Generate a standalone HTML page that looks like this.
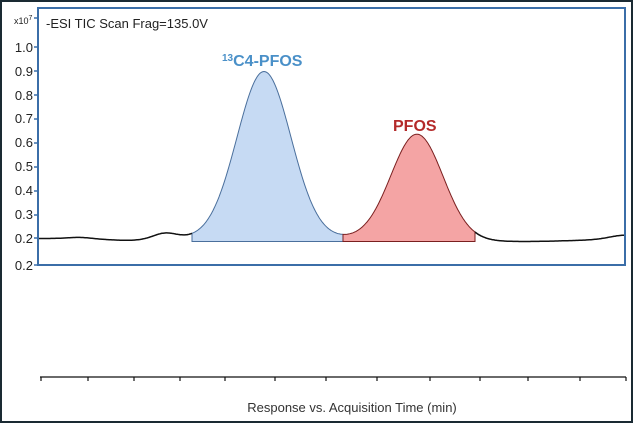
<!DOCTYPE html>
<html><head><meta charset="utf-8"><style>
html,body{margin:0;padding:0;background:#fff}
body{width:633px;height:423px;overflow:hidden}
</style></head><body>
<svg id="s" width="633" height="423" viewBox="0 0 633 423" xmlns="http://www.w3.org/2000/svg" font-family="Liberation Sans, sans-serif">
<rect x="1" y="1" width="631" height="421" fill="#fff" stroke="#1a2a33" stroke-width="2"/>
<path id="blue" fill="#c6daf3" stroke="#4a6f9c" stroke-width="1"/>
<path id="red" fill="#f4a4a4" stroke="#7a1f1f" stroke-width="1"/>
<path id="base" fill="none" stroke="#111" stroke-width="1.5"/>
<path id="base2" fill="none" stroke="#111" stroke-width="1.5"/>
<rect x="38" y="8" width="587" height="257" fill="none" stroke="#3b6ea8" stroke-width="2"/>
<g font-size="13" fill="#222" text-anchor="end">
<text x="33" y="52">1.0</text><text x="33" y="76">0.9</text><text x="33" y="100">0.8</text>
<text x="33" y="123">0.7</text><text x="33" y="147">0.6</text><text x="33" y="171">0.5</text>
<text x="33" y="195">0.4</text><text x="33" y="219">0.3</text><text x="33" y="243">0.2</text>
<text x="33" y="270">0.2</text>
</g>
<text x="14" y="24" font-size="9" fill="#222">x10<tspan font-size="7" dy="-4">7</tspan></text>
<g stroke="#3b6ea8" stroke-width="1.5">
<line x1="34" y1="47" x2="38" y2="47"/><line x1="34" y1="71" x2="38" y2="71"/><line x1="34" y1="95" x2="38" y2="95"/>
<line x1="34" y1="119" x2="38" y2="119"/><line x1="34" y1="143" x2="38" y2="143"/><line x1="34" y1="167" x2="38" y2="167"/>
<line x1="34" y1="191" x2="38" y2="191"/><line x1="34" y1="215" x2="38" y2="215"/><line x1="34" y1="238" x2="38" y2="238"/>
<line x1="34" y1="265" x2="38" y2="265"/><line x1="34" y1="18" x2="38" y2="18"/>
</g>
<text x="46" y="28" font-size="13" fill="#222">-ESI TIC Scan Frag=135.0V</text>
<text x="222" y="66" font-size="16" font-weight="bold" fill="#4a90c8"><tspan font-size="10" dy="-5">13</tspan><tspan dy="5">C4-PFOS</tspan></text>
<text x="393" y="131" font-size="16" font-weight="bold" fill="#b42a2a">PFOS</text>
<line x1="40" y1="377" x2="626" y2="377" stroke="#111" stroke-width="1.2"/>
<g id="ticks" stroke="#111" stroke-width="1.2"></g>
<text x="352" y="412" font-size="13" fill="#333" text-anchor="middle">Response vs. Acquisition Time (min)</text>
</svg>
<script>
function g(x,m,s,a){return a*Math.exp(-((x-m)*(x-m))/(2*s*s));}
function base(x){
 return 238.5 - g(x,80,12,1.3) + g(x,130,25,1.8) - g(x,165,12,6) + g(x,520,60,3) - g(x,625,15,4);}
function y(x){return base(x) - g(x,264,27,167) - g(x,417,26,105);}
function line(a,b){var d="";for(var x=a;x<=b;x++){d+=(x==a?"M":"L")+x+","+y(x).toFixed(1);}return d;}
document.getElementById('base').setAttribute('d',line(38,192));
document.getElementById('base2').setAttribute('d',line(475,625));
function fill(a,b,by){var p="M"+a+","+by;for(var x=a;x<=b;x++)p+="L"+x+","+y(x).toFixed(1);p+="L"+b+","+by+"Z";return p;}
document.getElementById('blue').setAttribute('d',fill(192,343,241.5));
document.getElementById('red').setAttribute('d',fill(343,475,241.5));
var t=[41,88,134,180,225,275,326,377,430,480,528,580,626],h="";
t.forEach(function(v){h+='<line x1="'+v+'" y1="377" x2="'+v+'" y2="381"/>';});
document.getElementById('ticks').innerHTML=h;
</script>
</body></html>
